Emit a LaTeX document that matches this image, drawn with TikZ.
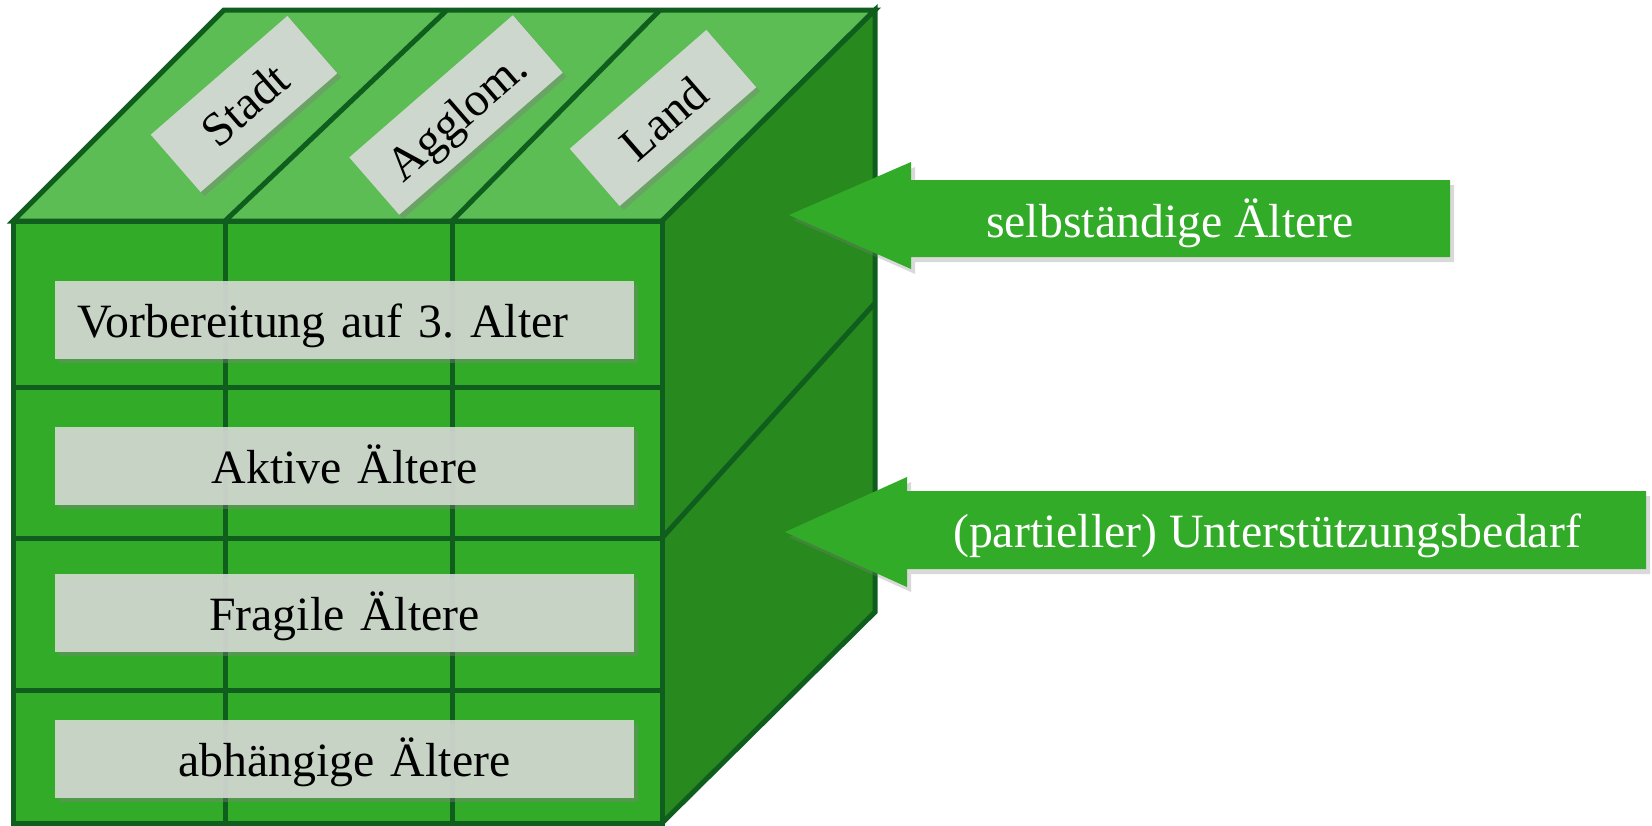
\documentclass[tikz,border=0pt]{standalone}
\usepackage{fontspec}
\setmainfont{Liberation Serif}
\usepackage{tikz}
\usetikzlibrary{shadows}
\definecolor{frontgreen}{RGB}{50,172,40}
\definecolor{topgreen}{RGB}{91,189,84}
\definecolor{sidegreen}{RGB}{40,137,30}
\definecolor{edgegreen}{RGB}{15,94,30}
\definecolor{tagfill}{RGB}{212,218,211}
\newcommand\tagfont{\fontsize{23.9pt}{28pt}\selectfont}

\begin{document}
\begin{tikzpicture}[x=0.5pt,y=-0.5pt,
  edge/.style={draw=edgegreen,line width=2.5pt},
  rowtag/.style={fill=tagfill,fill opacity=0.9,text opacity=1,font=\tagfont,
    text width=267.5pt,inner xsep=11pt,inner ysep=0pt,text height=28pt,text depth=11pt,
    align=center,anchor=base,drop shadow={shadow xshift=2pt,shadow yshift=-2pt,opacity=0.4}},
  coltag/.style={fill=tagfill,fill opacity=0.95,text opacity=1,font=\tagfont,rotate=41,
    minimum width=90.5pt,inner xsep=12pt,inner ysep=0pt,text height=27.5pt,text depth=10.5pt,
    drop shadow={shadow xshift=2pt,shadow yshift=-2pt,opacity=0.4}},
  arrowtext/.style={text=white,font=\tagfont,anchor=base,inner sep=0pt},
  blockarrow/.style={fill=frontgreen,drop shadow={shadow xshift=2pt,shadow yshift=-2.5pt,opacity=0.3}}]
  \useasboundingbox (0,0) rectangle (1652,825);
  % Ecken des Wuerfels
  \coordinate (ftl) at (13,221);
  \coordinate (ftr) at (662,221);
  \coordinate (fbr) at (662,823);
  \coordinate (fbl) at (13,823);
  \coordinate (btl) at (224,10);
  \coordinate (btr) at (875,10);
  \coordinate (bbr) at (875,612);
  \filldraw[edge,fill=topgreen] (ftl) -- (btl) -- (btr) -- (ftr) -- cycle;
  \filldraw[edge,fill=sidegreen] (ftr) -- (btr) -- (bbr) -- (fbr) -- cycle;
  \filldraw[edge,fill=frontgreen] (ftl) rectangle (fbr);
  \foreach \x in {225,452} \draw[edge] (\x,221) -- (\x,823);
  \foreach \y in {387,538,690} \draw[edge] (13,\y) -- (662,\y);
  \draw[edge] (225,221) -- (447,10);
  \draw[edge] (452,221) -- (660,10);
  \draw[edge] (662,538) -- (875,303);
  % Altersgruppen
  \node[rowtag,align=left] (vorb) at (344.5,337) {Vorbereitung auf 3.\ Alter};
  \node[rowtag] (aktiv) at (344.5,483) {Aktive Ältere};
  \node[rowtag] (fragil) at (344.5,630) {Fragile Ältere};
  \node[rowtag] (abh) at (344.5,776) {abhängige Ältere};
  % Raumtypen
  \node[coltag] (stadt) at (244,104) {Stadt};
  \node[coltag] (agglo) at (456,115) {Agglom.};
  \node[coltag] (land) at (663,118) {Land};
  % Pfeile
  \fill[blockarrow] (789,215) -- (911,162) -- (911,180) -- (1450,180) -- (1450,257)
    -- (911,257) -- (911,269) -- cycle;
  \node[arrowtext] (selb) at (1170,237) {selbständige Ältere};
  \fill[blockarrow] (785,532) -- (907,477) -- (907,491) -- (1646,491) -- (1646,569)
    -- (907,569) -- (907,587) -- cycle;
  \node[arrowtext] (unter) at (1267,547) {(partieller) Unterstützungsbedarf};
\end{tikzpicture}
\end{document}
